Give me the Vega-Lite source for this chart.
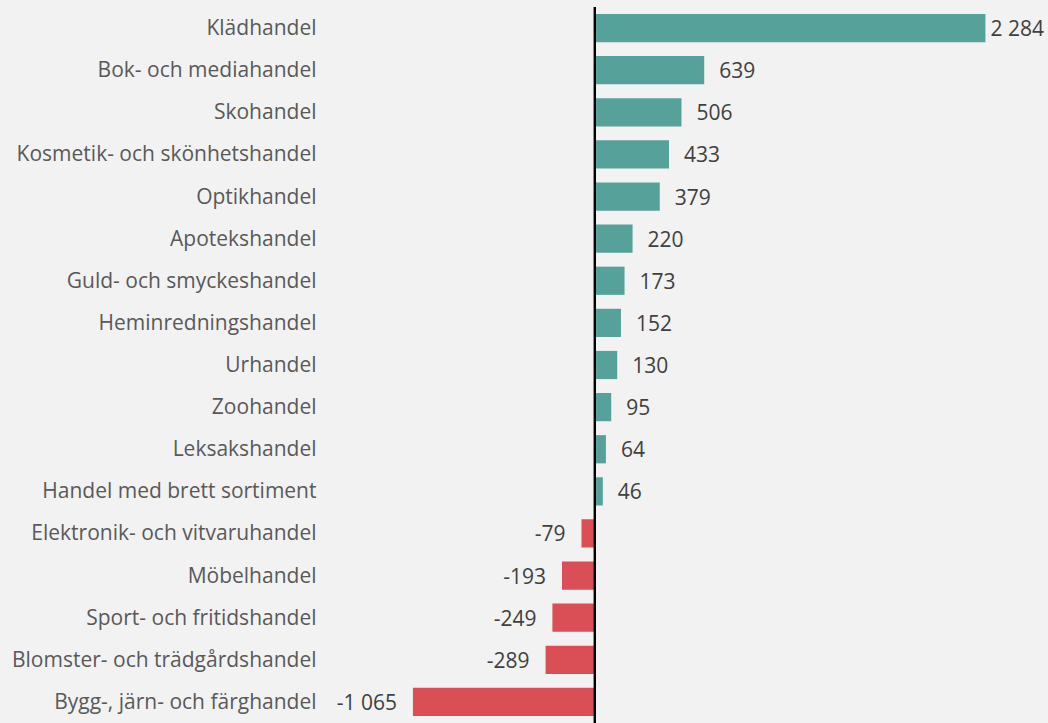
{
  "$schema": "https://vega.github.io/schema/vega-lite/v6.json",
  "autosize": "none",
  "width": 718,
  "height": 716,
  "padding": {"left": 330, "top": 7, "right": 0, "bottom": 0},
  "background": "#f2f2f2",
  "config": {"view": {"stroke": null}, "font": "Open Sans"},
  "data": {"values": [
    {"cat": "Klädhandel", "v": 2284, "label": "2 284"},
    {"cat": "Bok- och mediahandel", "v": 639, "label": "639"},
    {"cat": "Skohandel", "v": 506, "label": "506"},
    {"cat": "Kosmetik- och skönhetshandel", "v": 433, "label": "433"},
    {"cat": "Optikhandel", "v": 379, "label": "379"},
    {"cat": "Apotekshandel", "v": 220, "label": "220"},
    {"cat": "Guld- och smyckeshandel", "v": 173, "label": "173"},
    {"cat": "Heminredningshandel", "v": 152, "label": "152"},
    {"cat": "Urhandel", "v": 130, "label": "130"},
    {"cat": "Zoohandel", "v": 95, "label": "95"},
    {"cat": "Leksakshandel", "v": 64, "label": "64"},
    {"cat": "Handel med brett sortiment", "v": 46, "label": "46"},
    {"cat": "Elektronik- och vitvaruhandel", "v": -79, "label": "-79"},
    {"cat": "Möbelhandel", "v": -193, "label": "-193"},
    {"cat": "Sport- och fritidshandel", "v": -249, "label": "-249"},
    {"cat": "Blomster- och trädgårdshandel", "v": -289, "label": "-289"},
    {"cat": "Bygg-, järn- och färghandel", "v": -1065, "label": "-1 065"}
  ]},
  "encoding": {
    "y": {"field": "cat", "type": "nominal", "sort": null,
      "scale": {"paddingInner": 0.33, "paddingOuter": 0.165},
      "axis": {"title": null, "domain": false, "ticks": false, "labelPadding": 14, "labelLimit": 400,
        "labelFontSize": 21, "labelColor": "#595959", "labelFont": "Open Sans", "labelOffset": 1}},
    "x": {"field": "v", "type": "quantitative", "scale": {"domain": [-1550, 2650], "nice": false, "zero": false}, "axis": null}
  },
  "layer": [
    {"mark": {"type": "bar"},
     "encoding": {"color": {"condition": {"test": "datum.v >= 0", "value": "#56a29a"}, "value": "#d94f55"}}},
    {"transform": [{"filter": "datum.v >= 0 && datum.v < 2000"}],
     "mark": {"type": "text", "align": "left", "dx": 15, "fontSize": 21, "color": "#404040", "baseline": "middle", "dy": 2},
     "encoding": {"text": {"field": "label"}}},
    {"transform": [{"filter": "datum.v >= 2000"}],
     "mark": {"type": "text", "align": "left", "dx": 5, "fontSize": 21, "color": "#404040", "baseline": "middle", "dy": 2},
     "encoding": {"text": {"field": "label"}}},
    {"transform": [{"filter": "datum.v < 0"}],
     "mark": {"type": "text", "align": "right", "dx": -16, "fontSize": 21, "color": "#404040", "baseline": "middle", "dy": 2},
     "encoding": {"text": {"field": "label"}}},
    {"mark": {"type": "rule", "color": "#000000", "strokeWidth": 2},
     "encoding": {"x": {"datum": 0}, "y": null}}
  ]
}
